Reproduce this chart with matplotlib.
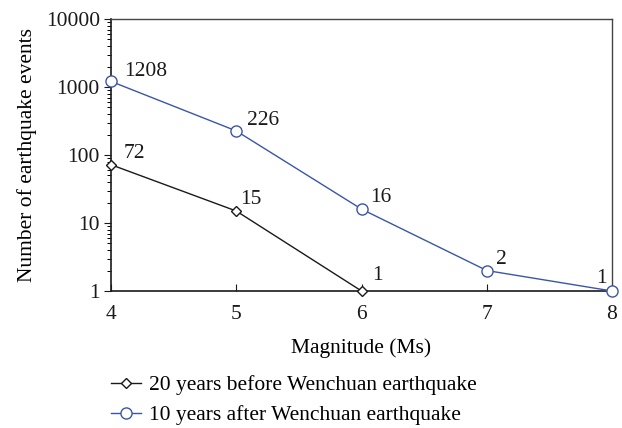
import matplotlib
matplotlib.use("Agg")
import matplotlib.pyplot as plt
from matplotlib.ticker import LogLocator, NullFormatter

plt.rcParams['font.family'] = ['Liberation Serif', 'DejaVu Serif']

magnitude = [4, 5, 6, 7, 8]
before_mag = [4, 5, 6]
before_counts = [72, 15, 1]
after_counts = [1208, 226, 16, 2, 1]
label_before = "20 years before Wenchuan earthquake"
label_after = "10 years after Wenchuan earthquake"

BLUE = "#3a56a6"
BLACK = "#1a1a1a"
FS = 15.5
PX = 0.72  # points per pixel at 100 dpi

# label offsets in pixels (dx, dy); negative dx => right-aligned
before_off = [(13, 11), (4, 12), (11, 15)]
after_off = [(13, 10), (11, 10.5), (9, 12), (9, 11.5), (-5, 12.5)]

fig = plt.figure(figsize=(6.22, 4.28), dpi=100)
ax = fig.add_axes([0.1785, 0.3201, 0.984 - 0.1785, 0.9556 - 0.3201])

ax.plot(before_mag, before_counts, color=BLACK, lw=1.0, marker='D', ms=5,
        mfc='white', mec=BLACK, mew=1.0, label=label_before, clip_on=False, zorder=3)
ax.plot(magnitude, after_counts, color=BLUE, lw=1.0, marker='o', ms=8,
        mfc='white', mec=BLUE, mew=1.0, label=label_after, clip_on=False, zorder=3)

ax.set_yscale('log')
ax.set_ylim(1, 10000)
ax.set_xlim(4, 8)
ax.set_xticks(magnitude)
ax.set_yticks([1, 10, 100, 1000, 10000])
ax.set_yticklabels(['1', '10', '100', '1000', '10000'])
ax.yaxis.set_minor_locator(LogLocator(base=10, subs=range(2, 10)))
ax.yaxis.set_minor_formatter(NullFormatter())

ax.tick_params(axis='y', which='major', direction='out', length=5, width=0.8,
               labelsize=FS, pad=3, colors=BLACK)
ax.tick_params(axis='y', which='minor', direction='out', length=3, width=0.7)
ax.tick_params(axis='x', which='major', direction='in', length=5, width=0.8,
               labelsize=FS, pad=10, colors=BLACK)

for s in ['left', 'bottom']:
    ax.spines[s].set_linewidth(1.2)
    ax.spines[s].set_color(BLACK)
for s in ['top', 'right']:
    ax.spines[s].set_linewidth(1.0)
    ax.spines[s].set_color('#444444')

ax.set_ylabel("Number of earthquake events", fontsize=FS, labelpad=6)
ax.set_xlabel("Magnitude (Ms)", fontsize=FS, labelpad=10)

def label(xs, ys, offs):
    for x, y, (dx, dy) in zip(xs, ys, offs):
        ha = 'left' if dx >= 0 else 'right'
        ax.annotate(str(y), (x, y), xytext=(dx * PX, dy * PX), textcoords='offset points',
                    fontsize=FS, ha=ha, va='center', color=BLACK)

label(before_mag, before_counts, before_off)
label(magnitude, after_counts, after_off)

handles, labels = ax.get_legend_handles_labels()
fig.legend(handles, labels, loc='upper left', bbox_to_anchor=(111 / 622, 1 - 375 / 428),
           frameon=False, fontsize=FS, handlelength=1.4, handletextpad=0.35,
           labelspacing=0.48, borderpad=0, borderaxespad=0)

fig.savefig("out.png", dpi=100)
